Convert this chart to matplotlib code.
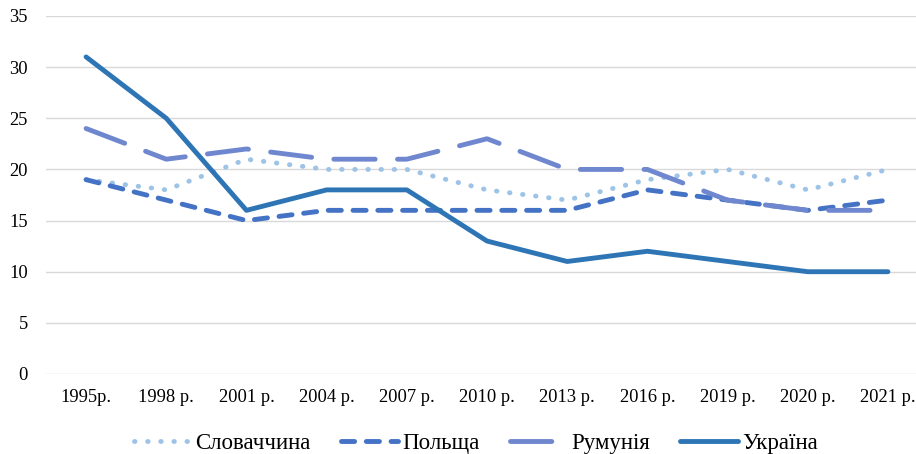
import matplotlib.pyplot as plt

years = ['1995р.', '1998 р.', '2001 р.', '2004 р.', '2007 р.', '2010 р.',
         '2013 р.', '2016 р.', '2019 р.', '2020 р.', '2021 р.']
slovakia = [19, 18, 21, 20, 20, 18, 17, 19, 20, 18, 20]
poland = [19, 17, 15, 16, 16, 16, 16, 18, 17, 16, 17]
romania = [24, 21, 22, 21, 21, 23, 20, 20, 17, 16, 16]
ukraine = [31, 25, 16, 18, 18, 13, 11, 12, 11, 10, 10]

plt.rcParams['font.family'] = ['Liberation Serif', 'DejaVu Serif']

fig = plt.figure(figsize=(9.16, 4.54), dpi=100)
ax = fig.add_axes([46 / 916, 80 / 454, 870 / 916, 358 / 454])

x = range(len(years))
lw = 3.5
ax.plot(x, slovakia, color='#9DC3E6', lw=lw, linestyle=(0, (0.1, 2.6)),
        dash_capstyle='round', label='Словаччина')
ax.plot(x, poland, color='#4472C4', lw=lw, linestyle=(0, (2.7, 2.4)),
        dash_capstyle='round', label='Польща')
ax.plot(x, romania, color='#6F87CE', lw=lw, linestyle=(0, (8.5, 4.6)),
        dash_capstyle='round', label='Румунія')
ax.plot(x, ukraine, color='#2E75B6', lw=lw, solid_capstyle='round',
        solid_joinstyle='round', label='Україна')

ax.set_xlim(-0.5, 10.35)
ax.set_ylim(0, 35)
ax.set_yticks(range(0, 36, 5))
ax.set_xticks(list(x))
ax.set_xticklabels(years)
ax.tick_params(axis='both', length=0, labelsize=13.3, colors='#000000')
ax.tick_params(axis='y', pad=13)
ax.tick_params(axis='x', pad=11)
ax.grid(axis='y', color='#D9D9D9', lw=1)
ax.set_axisbelow(True)
for s in ax.spines.values():
    s.set_visible(False)

ax.legend(loc='upper center', bbox_to_anchor=(0.494, -0.14), ncol=4,
          frameon=False, fontsize=16.5, handlelength=2.5, columnspacing=1.3,
          handletextpad=0.2, borderaxespad=0)

fig.savefig('out.png', dpi=100)
